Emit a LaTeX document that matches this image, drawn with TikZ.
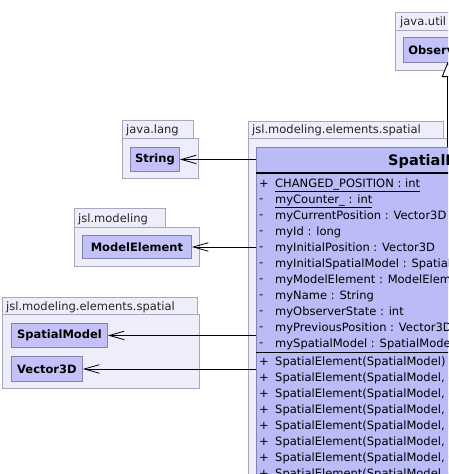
\documentclass[tikz,border=0pt]{standalone}
\usepackage{fontspec}
\setmainfont{DejaVu Sans}
\usetikzlibrary{arrows.meta}
\definecolor{pkgfill}{HTML}{EEEEFA}
\definecolor{pkgdraw}{HTML}{A8A8BC}
\definecolor{clsfill}{HTML}{C2C2F8}
\definecolor{clsdraw}{HTML}{8484B0}
\definecolor{bigfill}{HTML}{BBBBF8}
\begin{document}
\begin{tikzpicture}[x=1pt,y=-1pt,
  pkg/.style={fill=pkgfill,draw=pkgdraw,line width=0.8pt},
  pkglabel/.style={anchor=base west,inner sep=0pt,font=\fontsize{11.5}{13}\selectfont,text=black!85},
  cls/.style={fill=clsfill,draw=clsdraw,line width=0.9pt,anchor=north west,inner sep=0pt,font=\bfseries\fontsize{11.5}{13}\selectfont},
  member/.style={anchor=base west,inner sep=0pt,font=\fontsize{11.5}{13}\selectfont},
  assoc/.style={draw=black,line width=0.8pt,-{Straight Barb[length=15pt,width=8.5pt]}},
  gen/.style={draw=black,line width=0.9pt,-{Triangle[open,length=15pt,width=12pt,fill=white]}},
]
\useasboundingbox (0,0) rectangle (448,474);
\clip (0,0) rectangle (448,474);
\fill[white] (0,0) rectangle (448,474);

% java.util
\draw[pkg] (395,30) rectangle (470,70);
\draw[pkg] (395,12) rectangle (470,30);
\node[pkglabel] (pju) at (400,25.5) {java.util};
\node[cls,minimum width=110,minimum height=25,text width=100,align=left] (obs) at (403,37) {Observable};

% big package
\draw[pkg] (248,138) rectangle (700,700);
\draw[pkg] (248,121) rectangle (443,138);
\node[pkglabel] (pse) at (252,133.5) {jsl.modeling.elements.spatial};

% SpatialElement class
\node[cls,fill=bigfill,minimum width=450,minimum height=400] (se) at (256,147) {};
\node[anchor=base west,inner sep=0pt,font=\bfseries\fontsize{14.5}{16}\selectfont] (sename) at (388,165.5) {SpatialElement};
\draw[line width=1.6pt] (se.west |- 0,173) -- (se.east |- 0,173);
\draw[line width=1pt] (se.west |- 0,352) -- (se.east |- 0,352);

\foreach \t [count=\i] in {%
  {\underline{CHANGED\_POSITION : int}},
  {\underline{myCounter\_ : int}},
  {myCurrentPosition : Vector3D},
  {myId : long},
  {myInitialPosition : Vector3D},
  {myInitialSpatialModel : SpatialModel},
  {myModelElement : ModelElement},
  {myName : String},
  {myObserverState : int},
  {myPreviousPosition : Vector3D},
  {mySpatialModel : SpatialModel}}
{\node[member] (att\i) at (275,{183+16*(\i-1)+4.5}) {\t};}
\node[member] (v1) at (259,187.5) {+};
\foreach \i in {2,...,11}
{\node[member] (v\i) at (259,{183+16*(\i-1)+3}) {-};}

\foreach \t [count=\i] in {%
  {SpatialElement(SpatialModel)},
  {SpatialElement(SpatialModel, double, double)},
  {SpatialElement(SpatialModel, double, double, String)},
  {SpatialElement(SpatialModel, double, double, double)},
  {SpatialElement(SpatialModel, double, double, double, String)},
  {SpatialElement(SpatialModel, String)},
  {SpatialElement(SpatialModel, CoordinateIfc)},
  {SpatialElement(SpatialModel, CoordinateIfc, String)}}
{\node[member] (op\i) at (275,{361+16*(\i-1)+4.5}) {\t};
 \node[member] (ov\i) at (259,{361+16*(\i-1)+4.5}) {+};}

% java.lang
\draw[pkg] (122,138) rectangle (198,178);
\draw[pkg] (122,120) rectangle (193,138);
\node[pkglabel] (pjl) at (126,133) {java.lang};
\node[cls,minimum width=49,minimum height=24] (string) at (130,147) {String};

% jsl.modeling
\draw[pkg] (74,227) rectangle (199,266);
\draw[pkg] (74,208) rectangle (165,227);
\node[pkglabel] (pjm) at (78,222) {jsl.modeling};
\node[cls,minimum width=109,minimum height=23] (me) at (82,235) {ModelElement};

% jsl.modeling.elements.spatial (left)
\draw[pkg] (2,314) rectangle (199,388);
\draw[pkg] (2,297) rectangle (197,314);
\node[pkglabel] (pls) at (6,310) {jsl.modeling.elements.spatial};
\node[cls,minimum width=96,minimum height=24] (sm) at (11,323) {SpatialModel};
\node[cls,minimum width=71,minimum height=25] (v3) at (11,356) {Vector3D};

% connectors
\draw[assoc] (string.east -| se.west) -- (string.east);
\draw[assoc] (me.east -| se.west) -- (me.east);
\draw[assoc] (sm.east -| se.west) -- (sm.east);
\draw[assoc] (v3.east -| se.west) -- (v3.east);
\coordinate (gtip) at (447.7,62);
\draw[gen] (se.north -| gtip) -- (gtip);
\end{tikzpicture}
\end{document}
